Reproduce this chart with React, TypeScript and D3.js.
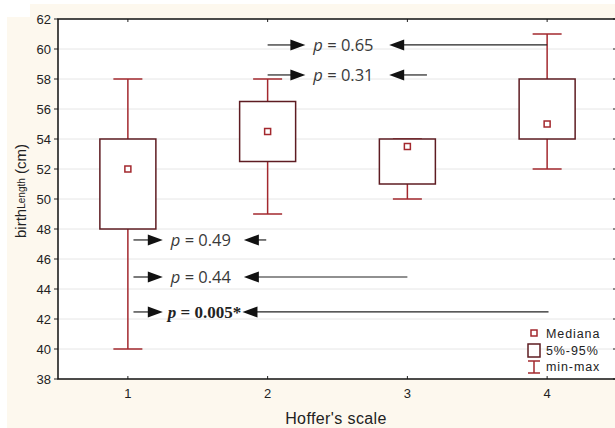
import React from "react";
import * as d3 from "d3";

const categories = [1, 2, 3, 4];
const minVals = [40, 49, 50, 52];
const maxVals = [58, 58, 54, 61];
const q05 = [48, 52.5, 51, 54];
const q95 = [54, 56.5, 54, 58];
const medians = [52, 54.5, 53.5, 55];
const yTicks = [38, 40, 42, 44, 46, 48, 50, 52, 54, 56, 58, 60, 62];

// annotations: label, y value, left arrow (tail, tip), right arrow (tip, tail) in category units
const annLabels = ["p = 0.65", "p = 0.31", "p = 0.49", "p = 0.44", "p = 0.005*"];
const annY = [60.27, 58.27, 47.27, 44.8, 42.47];
const annLeftTail = [2.0, 2.0, 1.04, 1.04, 1.04];
const annLeftTip = [2.27, 2.27, 1.25, 1.25, 1.25];
const annRightTip = [2.87, 2.87, 1.83, 1.83, 1.82];
const annRightTail = [4.0, 3.14, 1.99, 3.0, 4.01];
const annBold = [false, false, false, false, true];

const W = 615, H = 428;
const M = { left: 58, right: 617, top: 19, bottom: 379 };

export default function App() {
  const x = d3.scaleLinear().domain([0.5, 4.5]).range([M.left, M.right]);
  const y = d3.scaleLinear().domain([38, 62]).range([M.bottom, M.top]);
  const boxW = 56, capW = 29;
  const boxC = "#5e1c22", whC = "#a3282e";
  const arrowC = "#222";

  const arrowHead = (tipX: number, yy: number, dir: number) => {
    const L = 15, h = 5.5;
    return `M${tipX},${yy} L${tipX - dir * L},${yy - h} L${tipX - dir * L},${yy + h} Z`;
  };

  return (
    <svg width={W} height={H} style={{ position: "absolute", left: 0, top: 0 }}
      fontFamily="'Liberation Sans', Arial, sans-serif">
      <rect x={0} y={0} width={W} height={H} fill="#ffffff" />
      <rect x={7} y={4} width={W - 7} height={H - 4} fill="#fdf8ee" />
      <rect x={0} y={0} width={30} height={17} fill="#ffffff" />
      <rect x={M.left} y={M.top} width={M.right - M.left} height={M.bottom - M.top} fill="#ffffff" />
      {/* grid */}
      {yTicks.filter(t => t > 38 && t < 62).map(t => (
        <line key={"g" + t} x1={M.left} x2={M.right} y1={y(t)} y2={y(t)} stroke="#e6e6e6" strokeWidth={1} />
      ))}
      {/* y ticks and labels */}
      {yTicks.map(t => (
        <g key={"yt" + t}>
          <line x1={M.left - 4} x2={M.left} y1={y(t)} y2={y(t)} stroke="#222" />
          <line x1={M.right - 4} x2={M.right} y1={y(t)} y2={y(t)} stroke="#222" />
          <text x={M.left - 7} y={y(t) + 4.5} textAnchor="end" fontSize={13} fill="#222">{t}</text>
        </g>
      ))}
      {/* x ticks */}
      {categories.map(c => (
        <g key={"xt" + c}>
          <line x1={x(c)} x2={x(c)} y1={M.bottom} y2={M.bottom - 3} stroke="#222" />
          <line x1={x(c)} x2={x(c)} y1={M.top} y2={M.top + 3} stroke="#222" />
          <text x={x(c)} y={M.bottom + 19} textAnchor="middle" fontSize={13} fill="#222">{c}</text>
        </g>
      ))}
      {/* frame */}
      <rect x={M.left} y={M.top} width={M.right - M.left} height={M.bottom - M.top} fill="none" stroke="#111" strokeWidth={1.5} />
      {/* boxes */}
      {categories.map((c, i) => {
        const cx = x(c);
        return (
          <g key={"b" + c}>
            <line x1={cx} x2={cx} y1={y(maxVals[i])} y2={y(q95[i])} stroke={whC} strokeWidth={1.5} />
            <line x1={cx} x2={cx} y1={y(q05[i])} y2={y(minVals[i])} stroke={whC} strokeWidth={1.5} />
            <line x1={cx - capW / 2} x2={cx + capW / 2} y1={y(maxVals[i])} y2={y(maxVals[i])} stroke={whC} strokeWidth={1.5} />
            <line x1={cx - capW / 2} x2={cx + capW / 2} y1={y(minVals[i])} y2={y(minVals[i])} stroke={whC} strokeWidth={1.5} />
            <rect x={cx - boxW / 2} y={y(q95[i])} width={boxW} height={y(q05[i]) - y(q95[i])} fill="#fff" stroke={boxC} strokeWidth={1.5} />
            <rect x={cx - 3} y={y(medians[i]) - 3} width={6} height={6} fill="#fff" stroke={whC} strokeWidth={1.5} />
          </g>
        );
      })}
      {/* annotations */}
      {annLabels.map((lab, i) => {
        const yy = y(annY[i]);
        const lt = x(annLeftTail[i]), lp = x(annLeftTip[i]);
        const rp = x(annRightTip[i]), rt = x(annRightTail[i]);
        return (
          <g key={"a" + i}>
            <line x1={lt} x2={lp - 10} y1={yy} y2={yy} stroke={arrowC} strokeWidth={1.2} />
            <path d={arrowHead(lp, yy, 1)} fill="#111" />
            <line x1={rp + 10} x2={rt} y1={yy} y2={yy} stroke={arrowC} strokeWidth={1.2} />
            <path d={arrowHead(rp, yy, -1)} fill="#111" />
            {annBold[i] ? (
              <text x={lp + 5} y={yy + 6} fontFamily="'Liberation Serif', 'Times New Roman', serif" fontWeight="bold" fontSize={17} fill="#222">
                <tspan fontStyle="italic">p</tspan>{lab.slice(1)}
              </text>
            ) : (
              <text x={lp + 8} y={yy + 6} fontFamily="'Open Sans', sans-serif" fontSize={16.5} fill="#3a3a3a">
                <tspan fontStyle="italic">p</tspan>{lab.slice(1)}
              </text>
            )}
          </g>
        );
      })}
      {/* legend */}
      <rect x={531} y={330} width={6} height={6} fill="#fff" stroke={whC} strokeWidth={1.5} />
      <text x={546} y={338} fontSize={12.5} letterSpacing={0.9} fill="#222">Mediana</text>
      <rect x={528} y={344} width={12} height={13} fill="#fff" stroke={boxC} strokeWidth={1.5} />
      <text x={546} y={355} fontSize={12.5} letterSpacing={0.9} fill="#222">5%-95%</text>
      <line x1={534} x2={534} y1={361} y2={373} stroke={whC} strokeWidth={1.5} />
      <line x1={528} x2={540} y1={361} y2={361} stroke={whC} strokeWidth={1.5} />
      <line x1={528} x2={540} y1={373} y2={373} stroke={whC} strokeWidth={1.5} />
      <text x={546} y={371} fontSize={12.5} letterSpacing={0.9} fill="#222">min-max</text>
      {/* axis titles */}
      <text x={336} y={424} textAnchor="middle" fontSize={16} letterSpacing={0.4} fill="#222">Hoffer's scale</text>
      <text transform="translate(26,191) rotate(-90)" textAnchor="middle" fontSize={15} fill="#222">
        birth<tspan fontSize={10} dy={-1}>Length</tspan><tspan dy={1}> (cm)</tspan>
      </text>
    </svg>
  );
}
